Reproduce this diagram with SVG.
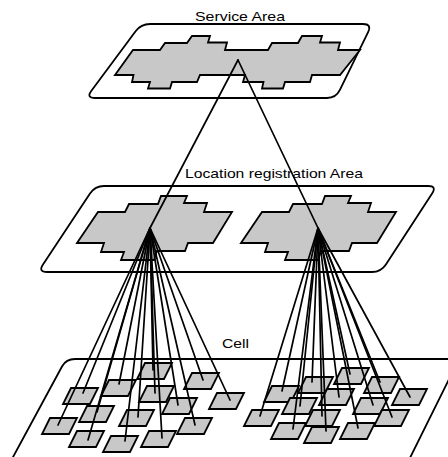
<svg xmlns="http://www.w3.org/2000/svg" xmlns:xlink="http://www.w3.org/1999/xlink" width="448" height="457" viewBox="0 0 448 457">
<style>
.plate{fill:#fff;stroke:#000;stroke-width:1.8;stroke-linejoin:round}
.area{fill:#c8c8c8;stroke:#000;stroke-width:1.8;stroke-linejoin:miter}
.cell{fill:#c8c8c8;stroke:#000;stroke-width:1.8;stroke-linejoin:miter}
.conn line{stroke:#000;stroke-width:1.7;stroke-linecap:round}
.lbl{font-family:"Liberation Sans",Arial,sans-serif;font-size:13px;fill:#000}
</style>
<defs>
<polygon id="cellShape" class="cell" points="0,0 27,0 19,16 -8,16"/>
</defs>
<rect width="448" height="457" fill="#fff"/>

<g id="service-area">
<path class="plate" d="M150,24 L363,24 Q372,24 368.1,32.1 L339.9,89.9 Q336,98 327,98 L95,98 Q86,98 91.4,90.8 L135.6,31.2 Q141,24 150,24 Z"/>
<polygon class="area" points="115,75 133,50 160,50 165,43 187,43 192,36 210,36 208,42.5 227,42.5 225,50 268,50 272,43 298,43 302,36 322,36 320,42.5 340,42.5 338,50 360,50 340,75 312,75 310,82 285,82 283,88.5 262,88.5 263.5,82 243,82 245,75 200,75 197,82 172,82 170,88.5 148,88.5 150,82 132,82 133.5,75"/>
</g>

<g id="location-area">
<path class="plate" d="M104,186 L428,186 Q437,186 432.1,193.5 L385.9,264.5 Q381,272 372,272 L47,272 Q38,272 43,264.5 L90,193.5 Q95,186 104,186 Z"/>
<polygon id="la-left" class="area" points="77,243 98,212 125,212 129,204 158,204 161,196 187,196 184,203 207,203 204,212 232,212 213,243 188,243 185,251 157,251 154,260 121,260 124,252 101,252 104,243"/>
<polygon id="la-right" class="area" transform="translate(164,0)" points="77,243 98,212 125,212 129,204 158,204 161,196 187,196 184,203 207,203 204,212 232,212 213,243 188,243 185,251 157,251 154,260 121,260 124,252 101,252 104,243"/>
</g>

<g id="cell-layer">
<path class="plate" d="M6,470 L62,366.5 Q66,359 75,359 L459,359 L404,470 Z"/>
</g>

<g id="cells">
<g id="cell-A"><use xlink:href="#cellShape" x="145" y="363"/></g>
<g id="cell-B"><use xlink:href="#cellShape" x="71" y="388"/></g>
<g id="cell-C"><use xlink:href="#cellShape" x="109" y="380"/></g>
<g id="cell-D"><use xlink:href="#cellShape" x="147" y="386"/></g>
<g id="cell-E"><use xlink:href="#cellShape" x="192" y="373"/></g>
<g id="cell-F"><use xlink:href="#cellShape" x="87" y="406"/></g>
<g id="cell-G"><use xlink:href="#cellShape" x="170" y="398"/></g>
<g id="cell-H"><use xlink:href="#cellShape" x="217" y="393"/></g>
<g id="cell-I"><use xlink:href="#cellShape" x="127" y="410"/></g>
<g id="cell-J"><use xlink:href="#cellShape" x="50" y="418"/></g>
<g id="cell-K"><use xlink:href="#cellShape" x="77" y="431"/></g>
<g id="cell-L"><use xlink:href="#cellShape" x="111" y="436"/></g>
<g id="cell-M"><use xlink:href="#cellShape" x="149" y="431"/></g>
<g id="cell-N"><use xlink:href="#cellShape" x="185" y="418"/></g>
<g id="cell-R1"><use xlink:href="#cellShape" x="272" y="386"/></g>
<g id="cell-R2"><use xlink:href="#cellShape" x="306" y="377"/></g>
<g id="cell-R3"><use xlink:href="#cellShape" x="342" y="368"/></g>
<g id="cell-R4"><use xlink:href="#cellShape" x="372" y="377"/></g>
<g id="cell-R5"><use xlink:href="#cellShape" x="400" y="389"/></g>
<g id="cell-R6"><use xlink:href="#cellShape" x="290" y="398"/></g>
<g id="cell-R7"><use xlink:href="#cellShape" x="327" y="389"/></g>
<g id="cell-R8"><use xlink:href="#cellShape" x="361" y="398"/></g>
<g id="cell-R9"><use xlink:href="#cellShape" x="252" y="410"/></g>
<g id="cell-R10"><use xlink:href="#cellShape" x="313" y="410"/></g>
<g id="cell-R11"><use xlink:href="#cellShape" x="382" y="410"/></g>
<g id="cell-R12"><use xlink:href="#cellShape" x="279" y="423"/></g>
<g id="cell-R13"><use xlink:href="#cellShape" x="312" y="427"/></g>
<g id="cell-R14"><use xlink:href="#cellShape" x="348" y="423"/></g>
</g>

<g id="connectors" class="conn">
<line x1="238" y1="60" x2="150" y2="228"/>
<line x1="238" y1="60" x2="318" y2="228"/>
<line x1="150" y1="228" x2="153" y2="370"/>
<line x1="150" y1="228" x2="83" y2="393"/>
<line x1="150" y1="228" x2="119" y2="384"/>
<line x1="150" y1="228" x2="155" y2="393"/>
<line x1="150" y1="228" x2="203" y2="380"/>
<line x1="150" y1="228" x2="97" y2="412"/>
<line x1="150" y1="228" x2="178" y2="405"/>
<line x1="150" y1="228" x2="230" y2="400"/>
<line x1="150" y1="228" x2="138" y2="417"/>
<line x1="150" y1="228" x2="58" y2="425"/>
<line x1="150" y1="228" x2="88" y2="440"/>
<line x1="150" y1="228" x2="125" y2="441"/>
<line x1="150" y1="228" x2="162" y2="438"/>
<line x1="150" y1="228" x2="195" y2="425"/>
<line x1="318" y1="228" x2="282" y2="391"/>
<line x1="318" y1="228" x2="312" y2="382"/>
<line x1="318" y1="228" x2="350" y2="374"/>
<line x1="318" y1="228" x2="380" y2="382"/>
<line x1="318" y1="228" x2="410" y2="397"/>
<line x1="318" y1="228" x2="300" y2="406"/>
<line x1="318" y1="228" x2="339" y2="397"/>
<line x1="318" y1="228" x2="373" y2="405"/>
<line x1="318" y1="228" x2="260" y2="416"/>
<line x1="318" y1="228" x2="322" y2="416"/>
<line x1="318" y1="228" x2="392" y2="417"/>
<line x1="318" y1="228" x2="293" y2="429"/>
<line x1="318" y1="228" x2="326" y2="431"/>
<line x1="318" y1="228" x2="358" y2="428"/>
</g>

<g id="labels">
<text class="lbl" x="195" y="21" textLength="90" lengthAdjust="spacingAndGlyphs">Service Area</text>
<text class="lbl" x="185" y="178" textLength="178" lengthAdjust="spacingAndGlyphs">Location registration Area</text>
<text class="lbl" x="222" y="348" textLength="27" lengthAdjust="spacingAndGlyphs">Cell</text>
</g>
</svg>
